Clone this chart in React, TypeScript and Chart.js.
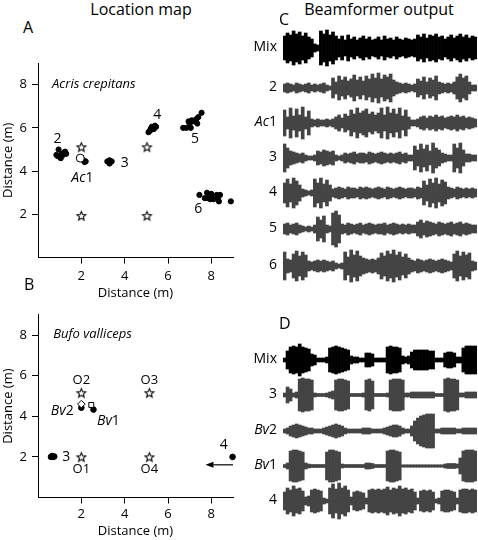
import React, { useEffect, useRef } from 'react';
import { Chart, registerables } from 'chart.js';
Chart.register(...registerables);

const FONT = "'Open Sans', 'Noto Sans', sans-serif";

// ---------- Panel A (Acris crepitans) ----------
const xTicks = [2, 4, 6, 8];
const yTicks = [2, 4, 6, 8];
const aStars = [[2, 5.12], [2, 1.94], [5.03, 5.12], [5.03, 1.94]];
const aOpenCircle = [[1.95, 4.6]];
const aFrog2 = [[0.95, 5.0], [0.85, 4.75], [1.0, 4.65], [1.1, 4.8], [1.2, 4.85], [1.25, 4.9], [0.9, 4.7], [1.05, 4.6], [1.3, 4.8], [1.15, 4.75]];
const aFrogAc1 = [[2.1, 4.5], [2.2, 4.45], [2.15, 4.42]];
const aFrog3 = [[3.2, 4.45], [3.3, 4.5], [3.4, 4.45], [3.3, 4.35], [3.35, 4.42]];
const aFrog4 = [[5.1, 5.8], [5.2, 5.9], [5.3, 6.0], [5.4, 6.1], [5.25, 6.05], [5.15, 5.85], [5.35, 5.95], [5.45, 6.05], [5.2, 5.95]];
const aFrog5 = [[6.7, 6.0], [6.85, 6.0], [7.0, 6.05], [7.0, 6.2], [7.1, 6.35], [7.2, 6.3], [7.3, 6.4], [7.35, 6.2], [7.4, 6.5], [7.55, 6.7], [6.95, 6.3], [7.05, 6.0]];
const aFrog6 = [[7.45, 2.9], [7.8, 3.0], [7.85, 2.75], [7.95, 2.7], [8.05, 2.85], [8.1, 2.7], [8.2, 2.8], [8.3, 2.75], [8.35, 2.6], [8.4, 2.9], [8.0, 2.95], [8.9, 2.6], [7.7, 2.75], [8.25, 2.9]];
const aLabels = [
  { parts: [['Acris crepitans', true]], x: 0.65, y: 8.0, align: 'left', size: 13 },
  { parts: [['2', false]], x: 0.9, y: 5.5, size: 14 },
  { parts: [['Ac', true], ['1', false]], x: 2.05, y: 3.68, size: 14 },
  { parts: [['3', false]], x: 4.0, y: 4.37, size: 14 },
  { parts: [['4', false]], x: 5.5, y: 6.6, size: 14 },
  { parts: [['5', false]], x: 7.25, y: 5.5, size: 14 },
  { parts: [['6', false]], x: 7.4, y: 2.25, size: 14 },
];

// ---------- Panel B (Bufo valliceps) ----------
const bStars = [[2, 5.16], [5.14, 5.16], [2, 2.0], [5.14, 2.0]];
const bFrogs = [[2.0, 4.42], [2.56, 4.33], [0.6, 2.0], [0.7, 2.0], [0.75, 2.02], [0.65, 2.04], [8.98, 2.0]];
const bOpenSquare = [[2.46, 4.56]];
const bOpenDiamond = [[2.0, 4.6]];
const bLabels = [
  { parts: [['Bufo valliceps', true]], x: 0.7, y: 8.05, align: 'left', size: 13 },
  { parts: [['O2', false]], x: 2.0, y: 5.78, size: 13 },
  { parts: [['O3', false]], x: 5.14, y: 5.78, size: 13 },
  { parts: [['O1', false]], x: 2.0, y: 1.37, size: 13 },
  { parts: [['O4', false]], x: 5.14, y: 1.37, size: 13 },
  { parts: [['Bv', true], ['2', false]], x: 1.12, y: 4.24, size: 14 },
  { parts: [['Bv', true], ['1', false]], x: 3.25, y: 3.77, size: 14 },
  { parts: [['3', false]], x: 1.3, y: 2.0, size: 14 },
  { parts: [['4', false]], x: 8.57, y: 2.57, size: 14 },
];
const bArrows = [{ from: [9.0, 1.61], to: [7.73, 1.61] }];

// ---------- Panel C: beamformer output envelopes (half-amplitude per time slice) ----------
const cMix = [12, 15, 13, 17, 14, 16, 12, 15, 11, 9, 4, 3, 17, 14, 18, 13, 16, 12, 9, 12, 8, 13, 9, 11, 8, 10, 12, 9, 11, 8, 9, 11, 8, 12, 9, 10, 8, 11, 9, 8, 10, 9, 8, 9, 13, 11, 14, 10, 13, 12, 14, 11, 12, 9, 11, 13, 10, 12, 14, 11, 13, 10, 12, 11];
const cTrack2 = [4, 5, 4, 3, 5, 4, 3, 4, 5, 3, 4, 3, 4, 5, 3, 2, 10, 6, 12, 8, 11, 7, 9, 13, 8, 11, 7, 12, 9, 14, 10, 15, 9, 13, 11, 14, 8, 6, 5, 4, 5, 4, 3, 4, 9, 7, 11, 6, 10, 8, 12, 6, 5, 4, 5, 4, 6, 11, 14, 10, 12, 6, 3, 3];
const cAc1 = [13, 6, 15, 7, 14, 8, 16, 6, 12, 4, 3, 4, 3, 3, 4, 3, 4, 6, 8, 5, 9, 7, 13, 9, 15, 10, 12, 14, 9, 11, 8, 10, 15, 8, 16, 10, 14, 9, 15, 7, 13, 6, 3, 3, 4, 6, 7, 5, 7, 6, 8, 6, 7, 5, 6, 7, 6, 8, 6, 7, 5, 6, 5, 4];
const cTrack3 = [14, 10, 7, 6, 5, 4, 5, 3, 2, 2, 3, 7, 6, 8, 7, 6, 7, 3, 2, 3, 5, 4, 5, 6, 4, 5, 5, 4, 6, 5, 4, 5, 6, 5, 4, 5, 4, 5, 6, 4, 5, 3, 3, 12, 8, 14, 9, 13, 7, 15, 10, 8, 5, 4, 3, 3, 14, 10, 15, 8, 4, 4, 3, 3];
const cTrack4 = [10, 14, 9, 15, 12, 8, 4, 3, 2, 3, 14, 10, 15, 9, 13, 8, 4, 5, 6, 5, 4, 6, 5, 5, 4, 6, 5, 6, 5, 4, 5, 6, 5, 4, 6, 5, 4, 5, 6, 5, 4, 5, 5, 4, 6, 5, 12, 8, 14, 10, 15, 9, 13, 11, 6, 5, 4, 6, 5, 4, 5, 4, 5, 4];
const cTrack5 = [5, 6, 4, 5, 6, 4, 3, 2, 3, 2, 4, 12, 9, 13, 4, 3, 16, 18, 14, 5, 4, 6, 5, 4, 5, 6, 4, 5, 6, 5, 4, 5, 5, 6, 4, 5, 6, 5, 4, 5, 4, 5, 4, 4, 7, 9, 6, 8, 7, 6, 5, 7, 6, 5, 6, 7, 5, 6, 7, 5, 6, 5, 4, 4];
const cTrack6 = [14, 7, 6, 12, 15, 10, 14, 11, 5, 4, 5, 6, 5, 6, 5, 4, 5, 3, 2, 3, 14, 9, 16, 11, 15, 10, 8, 7, 6, 7, 6, 8, 13, 10, 15, 12, 16, 11, 14, 9, 12, 8, 6, 5, 7, 6, 5, 6, 7, 6, 5, 6, 7, 6, 5, 4, 12, 15, 10, 14, 11, 13, 5, 4];
const cNames = [[['Mix', false]], [['2', false]], [['Ac', true], ['1', false]], [['3', false]], [['4', false]], [['5', false]], [['6', false]]];

// ---------- Panel D ----------
const dMix = [2, 9, 13, 14, 13, 16, 13, 12, 11, 6, 5, 2, 2, 2, 3, 12, 13, 14, 13, 12, 11, 10, 4, 3, 3, 2, 2, 7, 7, 6, 2, 2, 2, 2, 13, 14, 13, 13, 12, 4, 3, 4, 8, 10, 10, 10, 10, 10, 9, 9, 2, 2, 2, 7, 8, 8, 7, 3, 3, 12, 14, 14, 14, 14];
const dTrack3 = [2, 8, 6, 2, 3, 16, 17, 16, 16, 15, 2, 1.5, 1.5, 1.5, 2, 3, 4, 15, 16, 16, 15, 14, 1.5, 1.5, 1.5, 1.5, 2, 15, 16, 14, 1.5, 1.5, 1.5, 1.5, 2, 15, 16, 16, 16, 15, 2, 2, 3, 3, 3, 3, 3, 3, 3, 3, 1.5, 1.5, 1.5, 16, 17, 16, 16, 15, 2, 2, 3, 3, 3, 3];
const dBv2 = [2, 3, 5, 6, 7, 6, 5, 4, 3, 3, 2, 2, 2, 3, 4, 5, 6, 7, 6, 5, 3, 2, 2, 2, 2, 2, 3, 3, 3, 2, 2, 2, 2, 3, 4, 5, 6, 6, 5, 3, 2, 2, 5, 10, 13, 15, 16, 17, 17, 17, 2, 2, 3, 3, 3, 3, 3, 2, 2, 3, 3, 3, 3, 3];
const dBv1 = [1.5, 3, 15, 16, 16, 15, 14, 3, 2, 1.5, 1.5, 1.5, 1.5, 1.5, 14, 16, 16, 15, 14, 2, 1.5, 1.5, 1.5, 1.5, 1.5, 1.5, 1.5, 3, 3, 2.5, 1.5, 1.5, 1.5, 1.5, 15, 16, 16, 15, 14, 1.2, 1.2, 1.2, 1.2, 1.2, 1.2, 1.2, 1.2, 1.2, 1.2, 1.2, 1.2, 1.2, 1.2, 2, 2.5, 2.5, 2.5, 2, 8, 15, 16, 16, 16, 15];
const dTrack4 = [9, 13, 11, 15, 12, 13, 10, 4, 5, 11, 12, 11, 10, 3, 2, 13, 17, 12, 18, 13, 15, 11, 4, 9, 10, 9, 8, 3, 11, 12, 11, 12, 11, 12, 14, 11, 13, 12, 15, 12, 13, 11, 12, 9, 3, 10, 11, 10, 11, 9, 2, 3, 10, 11, 11, 10, 9, 3, 11, 12, 12, 11, 12, 11];
const dNames = [[['Mix', false]], [['3', false]], [['Bv', true], ['2', false]], [['Bv', true], ['1', false]], [['4', false]]];

// ---------- layout (pixels) ----------
const C_TOP = 28, C_H = 262;
const cCenters = [20, 60, 95, 130, 165, 201, 238];
const D_TOP = 335, D_H = 190;
const dCenters = [25, 60, 96, 131, 166];

function makeStar(r: number) {
  const size = 13;
  const c = document.createElement('canvas');
  c.width = size; c.height = size;
  const ctx = c.getContext('2d')!;
  ctx.translate(size / 2, size / 2 + 0.5);
  ctx.beginPath();
  for (let k = 0; k < 10; k++) {
    const rad = k % 2 === 0 ? r : r * 0.45;
    const a = -Math.PI / 2 + (k * Math.PI) / 5;
    ctx.lineTo(rad * Math.cos(a), rad * Math.sin(a));
  }
  ctx.closePath();
  ctx.fillStyle = '#fff';
  ctx.fill();
  ctx.lineWidth = 1.1;
  ctx.strokeStyle = '#000';
  ctx.stroke();
  return c;
}

const toPts = (arr: number[][]) => arr.map(([x, y]) => ({ x, y }));

function annotPlugin(labels: any[], arrows: any[]) {
  return {
    id: 'annot',
    afterDatasetsDraw(chart: any) {
      const ctx = chart.ctx;
      const xs = chart.scales.x, ys = chart.scales.y;
      ctx.save();
      ctx.fillStyle = '#000';
      ctx.textBaseline = 'middle';
      ctx.textAlign = 'left';
      for (const l of labels) {
        const fonts = l.parts.map((p: any) => `${p[1] ? 'italic ' : ''}${l.size}px ${FONT}`);
        let total = 0;
        const widths = l.parts.map((p: any, i: number) => {
          ctx.font = fonts[i];
          const w = ctx.measureText(p[0]).width;
          total += w;
          return w;
        });
        let px = xs.getPixelForValue(l.x);
        if (l.align !== 'left') px -= total / 2;
        const py = ys.getPixelForValue(l.y);
        l.parts.forEach((p: any, i: number) => {
          ctx.font = fonts[i];
          ctx.fillText(p[0], px, py);
          px += widths[i];
        });
      }
      for (const a of arrows) {
        const x1 = xs.getPixelForValue(a.from[0]), y1 = ys.getPixelForValue(a.from[1]);
        const x2 = xs.getPixelForValue(a.to[0]), y2 = ys.getPixelForValue(a.to[1]);
        const ang = Math.atan2(y2 - y1, x2 - x1);
        const hl = 8, hw = 3;
        const bx = x2 - hl * Math.cos(ang), by = y2 - hl * Math.sin(ang);
        ctx.strokeStyle = '#000';
        ctx.lineWidth = 1.2;
        ctx.beginPath();
        ctx.moveTo(x1, y1);
        ctx.lineTo(bx, by);
        ctx.stroke();
        ctx.beginPath();
        ctx.moveTo(x2, y2);
        ctx.lineTo(bx - hw * Math.sin(ang), by + hw * Math.cos(ang));
        ctx.lineTo(bx + hw * Math.sin(ang), by - hw * Math.cos(ang));
        ctx.closePath();
        ctx.fill();
      }
      ctx.restore();
    },
  };
}

function scatterConfig(datasets: any[], labels: any[], arrows: any[], o: { padTop: number; xAxisH: number; tickPad: number }) {
  const tickFont = { family: FONT, size: 13 };
  return {
    type: 'scatter',
    data: { datasets },
    options: {
      animation: false,
      responsive: false,
      devicePixelRatio: 1,
      layout: { padding: { top: o.padTop, right: 7, left: 0, bottom: 0 } },
      plugins: { legend: { display: false }, tooltip: { enabled: false } },
      scales: {
        x: {
          type: 'linear', min: 0, max: 9,
          afterBuildTicks: (s: any) => { s.ticks = xTicks.map((v) => ({ value: v })); },
          afterFit: (s: any) => { s.height = o.xAxisH; },
          grid: { drawOnChartArea: false, color: '#000', tickLength: 6, tickWidth: 1 },
          border: { color: '#000', width: 1 },
          ticks: { color: '#000', font: tickFont, padding: o.tickPad, maxRotation: 0, autoSkip: false },
          title: { display: true, text: 'Distance (m)', color: '#000', font: tickFont, padding: { top: 0, bottom: 1 } },
        },
        y: {
          type: 'linear', min: 0, max: 9,
          afterBuildTicks: (s: any) => { s.ticks = yTicks.map((v) => ({ value: v })); },
          afterFit: (s: any) => { s.width = 38; },
          grid: { drawOnChartArea: false, color: '#000', tickLength: 6, tickWidth: 1 },
          border: { color: '#000', width: 1 },
          ticks: { color: '#000', font: tickFont, padding: 5, autoSkip: false },
          title: { display: true, text: 'Distance (m)', color: '#000', font: tickFont, padding: { top: 0, bottom: 0 } },
        },
      },
    },
    plugins: [annotPlugin(labels, arrows)],
  };
}

function waveConfig(tracks: number[][], centers: number[], colors: string[], height: number) {
  const labels = tracks[0].map((_, i) => String(i));
  return {
    type: 'bar',
    data: {
      labels,
      datasets: tracks.map((amp, k) => ({
        data: amp.map((a) => [centers[k] - a, centers[k] + a]),
        backgroundColor: colors[k],
        borderWidth: 0,
        barPercentage: 1,
        categoryPercentage: 1,
        grouped: false,
        clip: false,
      })),
    },
    options: {
      animation: false,
      responsive: false,
      devicePixelRatio: 1,
      layout: { padding: 0 },
      plugins: { legend: { display: false }, tooltip: { enabled: false } },
      scales: {
        x: { display: false },
        y: { display: false, min: 0, max: height, reverse: true },
      },
    },
    plugins: [{
      id: 'baseline',
      beforeDatasetsDraw(chart: any) {
        const ctx = chart.ctx;
        const ys = chart.scales.y;
        const { left, right } = chart.chartArea;
        ctx.save();
        centers.forEach((c, k) => {
          const y = ys.getPixelForValue(c);
          ctx.strokeStyle = colors[k];
          ctx.lineWidth = 1.5;
          ctx.beginPath();
          ctx.moveTo(left, y);
          ctx.lineTo(right, y);
          ctx.stroke();
        });
        ctx.restore();
      },
    }],
  };
}

function Label({ parts, style }: { parts: any[]; style: React.CSSProperties }) {
  return (
    <div style={{ position: 'absolute', fontFamily: FONT, color: '#000', whiteSpace: 'nowrap', lineHeight: 1, ...style }}>
      {parts.map((p: any, i: number) => (
        <span key={i} style={{ fontStyle: p[1] ? 'italic' : 'normal' }}>{p[0]}</span>
      ))}
    </div>
  );
}

export default function App() {
  const aRef = useRef<HTMLCanvasElement>(null);
  const bRef = useRef<HTMLCanvasElement>(null);
  const cRef = useRef<HTMLCanvasElement>(null);
  const dRef = useRef<HTMLCanvasElement>(null);

  useEffect(() => {
    const star = makeStar(4.6);
    const base = { clip: false, borderWidth: 1, borderColor: '#000' };
    const aData = [
      { ...base, data: toPts(aOpenCircle), pointRadius: 4, backgroundColor: '#fff', pointStyle: 'circle' },
      { ...base, data: toPts([...aFrog2, ...aFrogAc1, ...aFrog3, ...aFrog4, ...aFrog5, ...aFrog6]), pointRadius: 2.6, backgroundColor: '#000' },
      { ...base, data: toPts(aStars), pointStyle: star, pointRadius: 5 },
    ];
    const bData = [
      { ...base, data: toPts(bOpenSquare), pointRadius: 3.5, backgroundColor: '#fff', pointStyle: 'rect' },
      { ...base, data: toPts(bOpenDiamond), pointRadius: 3.8, backgroundColor: '#fff', pointStyle: 'rectRot' },
      { ...base, data: toPts(bFrogs), pointRadius: 2.8, backgroundColor: '#000' },
      { ...base, data: toPts(bStars), pointStyle: star, pointRadius: 5 },
    ];
    const charts = [
      new Chart(aRef.current!, scatterConfig(aData, aLabels, [], { padTop: 23, xAxisH: 44.4, tickPad: 5 }) as any),
      new Chart(bRef.current!, scatterConfig(bData, bLabels, bArrows, { padTop: 2, xAxisH: 42.5, tickPad: 3 }) as any),
      new Chart(cRef.current!, waveConfig([cMix, cTrack2, cAc1, cTrack3, cTrack4, cTrack5, cTrack6], cCenters,
        ['#000', '#444', '#444', '#444', '#444', '#444', '#444'], C_H) as any),
      new Chart(dRef.current!, waveConfig([dMix, dTrack3, dBv2, dBv1, dTrack4], dCenters,
        ['#000', '#444', '#444', '#444', '#444'], D_H) as any),
    ];
    return () => charts.forEach((c) => c.destroy());
  }, []);

  const trackLabel = (parts: any[], cy: number, key: string) => (
    <Label key={key} parts={parts} style={{ left: 200, width: 77, textAlign: 'right', top: cy - 7, fontSize: 14 }} />
  );

  return (
    <div style={{ position: 'absolute', left: 0, top: 0, width: 478, height: 540, background: '#fff', overflow: 'hidden' }}>
      <canvas ref={aRef} width={240} height={262} style={{ position: 'absolute', left: 0, top: 40, width: 240, height: 262 }} />
      <canvas ref={bRef} width={240} height={238} style={{ position: 'absolute', left: 0, top: 302, width: 240, height: 238 }} />
      <canvas ref={cRef} width={194} height={C_H} style={{ position: 'absolute', left: 283, top: C_TOP, width: 194, height: C_H }} />
      <canvas ref={dRef} width={194} height={D_H} style={{ position: 'absolute', left: 283, top: D_TOP, width: 194, height: D_H }} />

      <Label parts={[['Location map', false]]} style={{ left: 60, width: 162, textAlign: 'center', top: 1, fontSize: 16 }} />
      <Label parts={[['Beamformer output', false]]} style={{ left: 290, width: 178, textAlign: 'center', top: 1, fontSize: 16 }} />
      <Label parts={[['A', false]]} style={{ left: 23, top: 19, fontSize: 16 }} />
      <Label parts={[['B', false]]} style={{ left: 24, top: 276, fontSize: 16 }} />
      <Label parts={[['C', false]]} style={{ left: 279, top: 11, fontSize: 16 }} />
      <Label parts={[['D', false]]} style={{ left: 279, top: 315, fontSize: 16 }} />

      {cNames.map((p, k) => trackLabel(p, C_TOP + cCenters[k] - 2, 'c' + k))}
      {dNames.map((p, k) => trackLabel(p, D_TOP + dCenters[k] - 2, 'd' + k))}
    </div>
  );
}
